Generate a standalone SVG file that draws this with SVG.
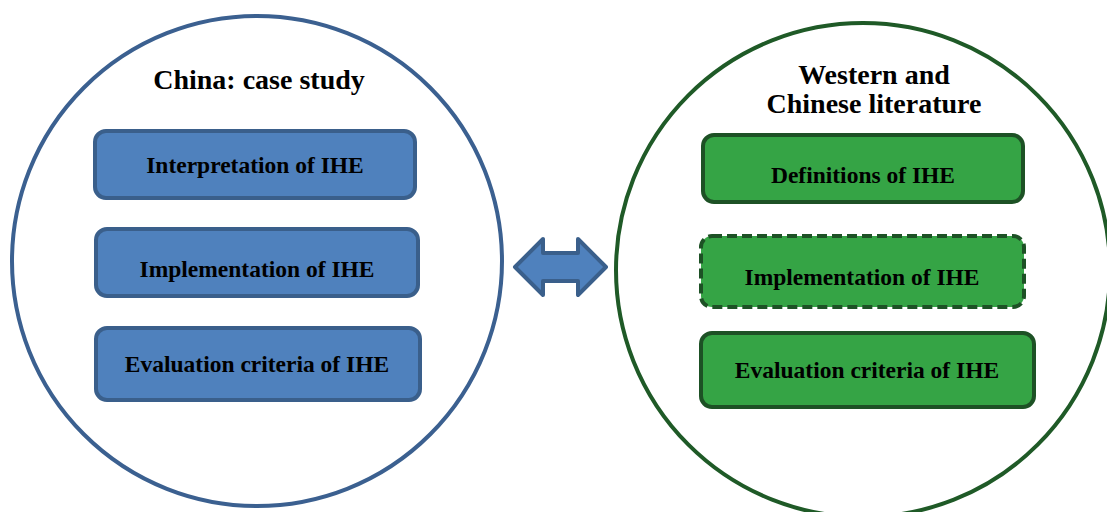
<svg xmlns="http://www.w3.org/2000/svg" width="1107" height="512" viewBox="0 0 1107 512">
<style>
.title{font-family:"Liberation Serif","Times New Roman",serif;font-weight:bold;font-size:28px;fill:#000;text-anchor:middle}
.lbl{font-family:"Liberation Serif","Times New Roman",serif;font-weight:bold;font-size:23.5px;fill:#000;text-anchor:middle}
.bbox{fill:#4f81bd;stroke:#3a5f8b;stroke-width:4}
.gbox{fill:#35a445;stroke:#1d5125;stroke-width:4}
</style>
<rect width="1107" height="512" fill="#fff"/>
<g id="china">
<circle cx="257" cy="261" r="245" fill="none" stroke="#3b6090" stroke-width="4"/>
<text class="title" x="259" y="89" font-size="29">China: case study</text>
</g>
<g id="interpretation"><rect class="bbox" x="95" y="131" width="320" height="67" rx="11"/><text class="lbl" x="255" y="173">Interpretation of IHE</text></g>
<g id="implementation-l"><rect class="bbox" x="96" y="229" width="322" height="67" rx="11"/><text class="lbl" x="257" y="277">Implementation of IHE</text></g>
<g id="evaluation-l"><rect class="bbox" x="96" y="328" width="324" height="72" rx="11"/><text class="lbl" x="257" y="372">Evaluation criteria of IHE</text></g>
<g id="western">
<circle cx="863" cy="270" r="247" fill="none" stroke="#1f5a27" stroke-width="4"/>
<text class="title" x="874" y="84">Western and</text>
<text class="title" x="874" y="113">Chinese literature</text>
</g>
<g id="definitions"><rect class="gbox" x="703" y="135" width="320" height="67" rx="11"/><text class="lbl" x="863" y="183">Definitions of IHE</text></g>
<g id="implementation-r"><rect class="gbox" x="701" y="236" width="323" height="71" rx="11" stroke-dasharray="10,5"/><text class="lbl" x="862" y="285">Implementation of IHE</text></g>
<g id="evaluation-r"><rect class="gbox" x="701" y="333" width="333" height="74" rx="11"/><text class="lbl" x="867" y="378">Evaluation criteria of IHE</text></g>
<g id="connectors">
<polygon points="515,267 543,239 543,253 578,253 578,239 606,267 578,295 578,281 543,281 543,295" fill="#4f81bd" stroke="#3a5f8b" stroke-width="4" stroke-linejoin="round"/>
</g>
</svg>
